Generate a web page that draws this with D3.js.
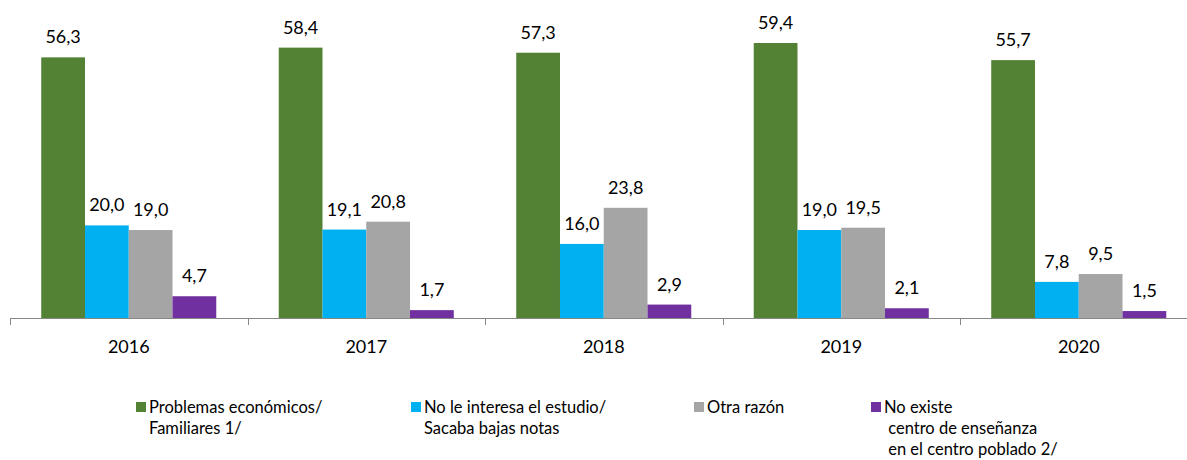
<!DOCTYPE html>
<html>
<head>
<meta charset="utf-8">
<script src="https://cdn.jsdelivr.net/npm/d3@7"></script>
<style>
  body { margin: 0; background: #fff; }
  svg { display: block; font-family: Lato, "Open Sans", sans-serif; }
</style>
</head>
<body>
<svg id="chart" width="1187" height="460"></svg>
<script>
// data
var years = ['2016', '2017', '2018', '2019', '2020'];
var seriesNames = ['Problemas económicos', 'No le interesa el estudio', 'Otra razón', 'No existe centro de enseñanza'];
var economicos = [56.3, 58.4, 57.3, 59.4, 55.7];
var noInteresa = [20.0, 19.1, 16.0, 19.0, 7.8];
var otraRazon = [19.0, 20.8, 23.8, 19.5, 9.5];
var noExiste = [4.7, 1.7, 2.9, 2.1, 1.5];
var colors = ['#548235', '#00b0f0', '#a5a5a5', '#7030a0'];
var legendLines = [
  ['Problemas económicos/', 'Familiares 1/'],
  ['No le interesa el estudio/', 'Sacaba bajas notas'],
  ['Otra razón'],
  ['No existe', ' centro de enseñanza', ' en el centro poblado 2/']
];

var allSeries = [economicos, noInteresa, otraRazon, noExiste];
var svg = d3.select('#chart');

var x0 = d3.scaleBand().domain(years).range([10, 1197.5]).paddingInner(0).paddingOuter(0);
var groupW = x0.bandwidth() * 0.737;
var x1 = d3.scaleBand().domain(d3.range(4)).range([0, groupW]);
var y = d3.scaleLinear().domain([0, 59.4]).range([318, 43]);

var fmt = function(v) { return v.toFixed(1).replace('.', ','); };

var groups = svg.selectAll('g.year').data(years).enter().append('g')
    .attr('class', 'year')
    .attr('transform', function(d) { return 'translate(' + (x0(d) + (x0.bandwidth() - groupW) / 2) + ',0)'; });

groups.selectAll('rect').data(function(d, i) {
    return allSeries.map(function(s, k) { return {k: k, v: s[i]}; });
  }).enter().append('rect')
    .attr('x', function(d) { return x1(d.k); })
    .attr('width', x1.bandwidth())
    .attr('y', function(d) { return y(d.v); })
    .attr('height', function(d) { return y(0) - y(d.v); })
    .attr('fill', function(d) { return colors[d.k]; });

groups.selectAll('text').data(function(d, i) {
    return allSeries.map(function(s, k) { return {k: k, v: s[i]}; });
  }).enter().append('text')
    .attr('x', function(d) { return x1(d.k) + x1.bandwidth() / 2; })
    .attr('y', function(d) { return y(d.v) - 14; })
    .attr('text-anchor', 'middle')
    .attr('font-size', 18)
    .attr('fill', '#000')
    .text(function(d) { return fmt(d.v); });

// x axis
var axis = svg.append('g').attr('transform', 'translate(0,318)')
    .call(d3.axisBottom(x0).tickSize(0).tickPadding(22));
axis.select('.domain').attr('stroke', '#868686').attr('d', 'M10,0.5H1187');
axis.selectAll('text').attr('font-size', 18).attr('fill', '#000')
    .attr('font-family', 'Lato, "Open Sans", sans-serif');
svg.append('g').selectAll('line').data(years).enter().append('line')
    .attr('x1', function(d) { return Math.round(x0(d)) + 0.5; })
    .attr('x2', function(d) { return Math.round(x0(d)) + 0.5; })
    .attr('y1', 318).attr('y2', 325)
    .attr('stroke', '#868686');

// legend
var legendX = [136, 411, 694, 871];
var legend = svg.selectAll('g.legend').data(legendLines).enter().append('g')
    .attr('class', 'legend')
    .attr('transform', function(d, i) { return 'translate(' + legendX[i] + ',402)'; });
legend.append('rect').attr('width', 10).attr('height', 10)
    .attr('fill', function(d, i) { return colors[i]; });
legend.each(function(lines) {
  var t = d3.select(this).append('text').attr('font-size', 16.5).attr('fill', '#000')
      .attr('xml:space', 'preserve');
  lines.forEach(function(l, j) {
    t.append('tspan').attr('x', 13).attr('y', 11 + j * 21).text(l);
  });
});
</script>
</body>
</html>
